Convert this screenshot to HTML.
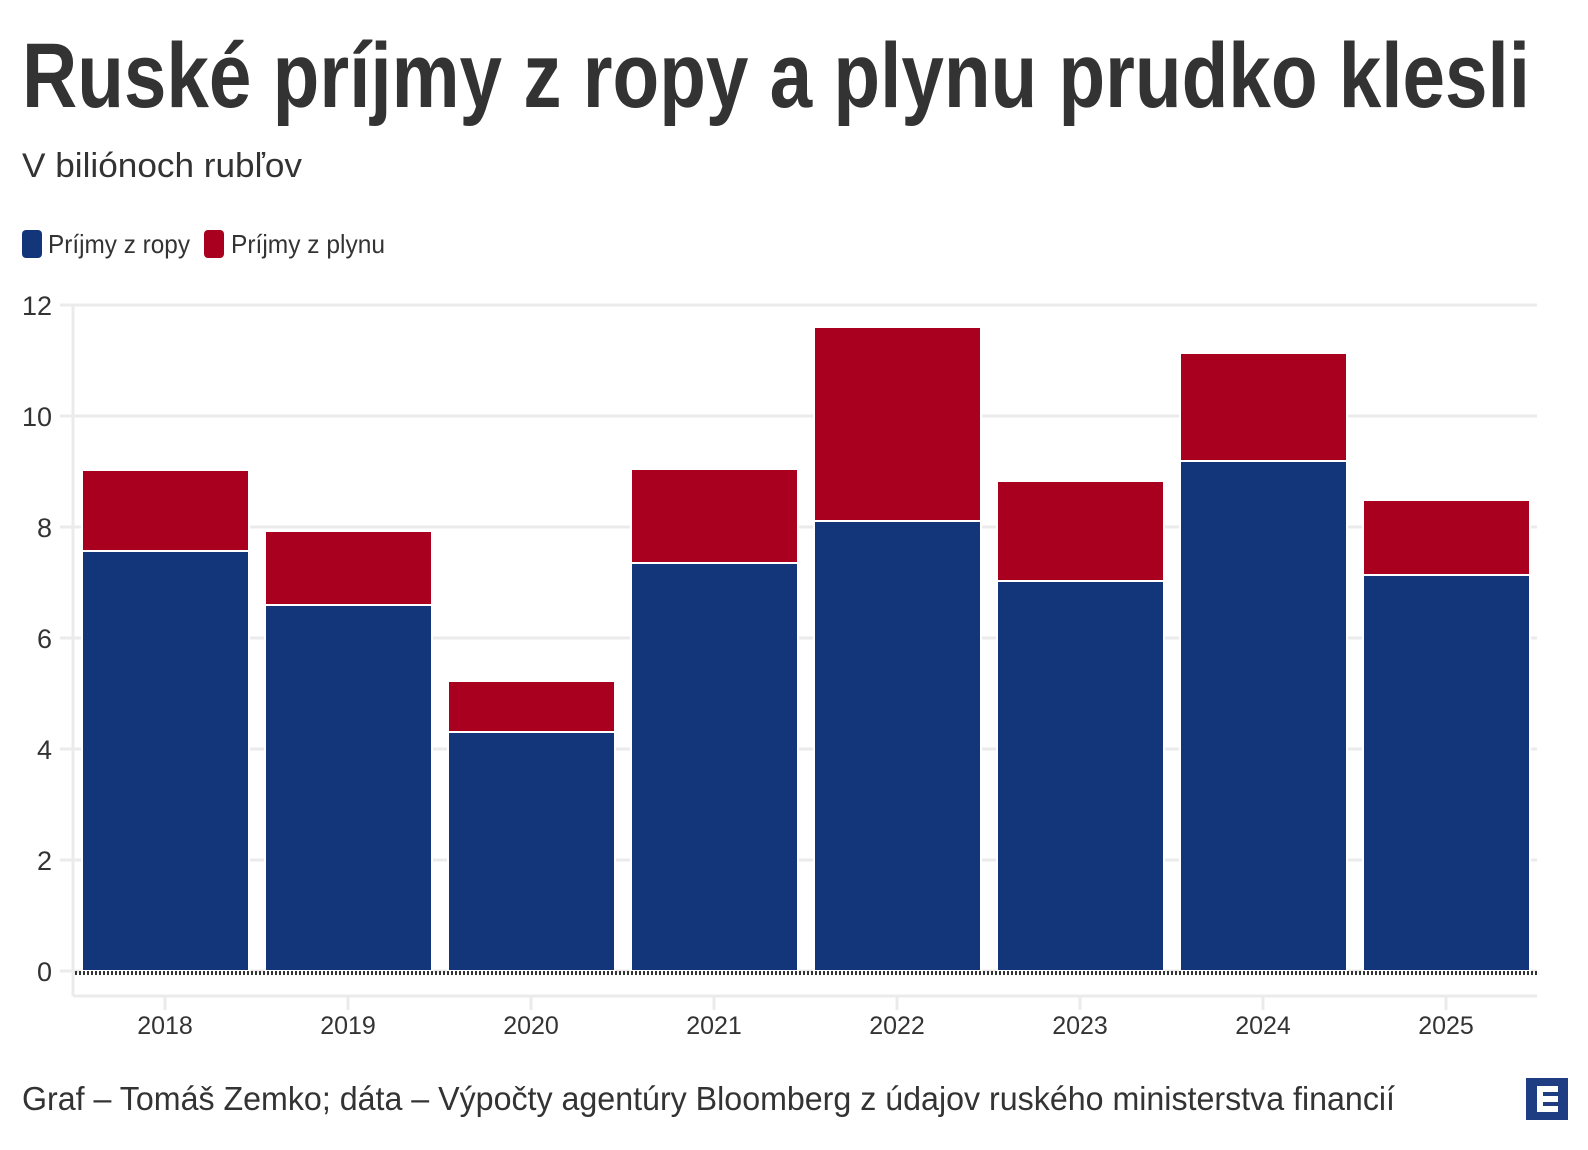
<!DOCTYPE html>
<html><head><meta charset="utf-8"><style>
html,body{margin:0;padding:0;background:#fff}
svg{display:block}
text{font-family:"Liberation Sans",sans-serif;fill:#333}
</style></head><body>
<svg width="1588" height="1150" viewBox="0 0 1588 1150" xmlns="http://www.w3.org/2000/svg">
<text x="22" y="107" font-size="92" font-weight="bold" textLength="1508" lengthAdjust="spacingAndGlyphs">Ruské príjmy z ropy a plynu prudko klesli</text>
<text x="22" y="177" font-size="34" textLength="280" lengthAdjust="spacingAndGlyphs">V biliónoch rubľov</text>
<rect x="22" y="230" width="20" height="28" rx="4" fill="#13357a"/>
<text x="48" y="253" font-size="26" textLength="142" lengthAdjust="spacingAndGlyphs">Príjmy z ropy</text>
<rect x="204" y="230" width="20" height="28" rx="4" fill="#aa001f"/>
<text x="231" y="253" font-size="26" textLength="154" lengthAdjust="spacingAndGlyphs">Príjmy z plynu</text>
<g stroke="#ebebeb" stroke-width="3">
<line x1="60" y1="305" x2="1537" y2="305"/>
<line x1="60" y1="416" x2="1537" y2="416"/>
<line x1="60" y1="527" x2="1537" y2="527"/>
<line x1="60" y1="638" x2="1537" y2="638"/>
<line x1="60" y1="749" x2="1537" y2="749"/>
<line x1="60" y1="860" x2="1537" y2="860"/>
<line x1="60" y1="971" x2="1537" y2="971"/>
<line x1="73" y1="305" x2="73" y2="996"/>
<line x1="73" y1="996" x2="1537" y2="996"/>
</g>
<g font-size="27" text-anchor="end">
<text x="52" y="315">12</text><text x="52" y="426">10</text><text x="52" y="537">8</text>
<text x="52" y="648">6</text><text x="52" y="759">4</text><text x="52" y="870">2</text><text x="52" y="981">0</text>
</g>
<g stroke="#fff" stroke-width="2">
<rect x="82" y="551" width="167" height="420" fill="#13357a"/>
<rect x="82" y="470" width="167" height="81" fill="#aa001f"/>
<rect x="265" y="605" width="167" height="366" fill="#13357a"/>
<rect x="265" y="531" width="167" height="74" fill="#aa001f"/>
<rect x="448" y="732" width="167" height="239" fill="#13357a"/>
<rect x="448" y="681" width="167" height="51" fill="#aa001f"/>
<rect x="631" y="563" width="167" height="408" fill="#13357a"/>
<rect x="631" y="469" width="167" height="94" fill="#aa001f"/>
<rect x="814" y="521" width="167" height="450" fill="#13357a"/>
<rect x="814" y="327" width="167" height="194" fill="#aa001f"/>
<rect x="997" y="581" width="167" height="390" fill="#13357a"/>
<rect x="997" y="481" width="167" height="100" fill="#aa001f"/>
<rect x="1180" y="461" width="167" height="510" fill="#13357a"/>
<rect x="1180" y="353" width="167" height="108" fill="#aa001f"/>
<rect x="1363" y="575" width="167" height="396" fill="#13357a"/>
<rect x="1363" y="500" width="167" height="75" fill="#aa001f"/>
</g>
<line x1="75" y1="973" x2="1537" y2="973" stroke="#333" stroke-width="4" stroke-dasharray="2,2"/>
<g stroke="#ebebeb" stroke-width="3">
<line x1="165" y1="996" x2="165" y2="1010"/><line x1="348" y1="996" x2="348" y2="1010"/>
<line x1="531" y1="996" x2="531" y2="1010"/><line x1="714" y1="996" x2="714" y2="1010"/>
<line x1="897" y1="996" x2="897" y2="1010"/><line x1="1080" y1="996" x2="1080" y2="1010"/>
<line x1="1263" y1="996" x2="1263" y2="1010"/><line x1="1446" y1="996" x2="1446" y2="1010"/>
</g>
<g font-size="25" text-anchor="middle">
<text x="165" y="1034">2018</text><text x="348" y="1034">2019</text><text x="531" y="1034">2020</text>
<text x="714" y="1034">2021</text><text x="897" y="1034">2022</text><text x="1080" y="1034">2023</text>
<text x="1263" y="1034">2024</text><text x="1446" y="1034">2025</text>
</g>
<text x="22" y="1110" font-size="33" textLength="1373" lengthAdjust="spacingAndGlyphs">Graf – Tomáš Zemko; dáta – Výpočty agentúry Bloomberg z údajov ruského ministerstva financií</text>
<rect x="1526" y="1078" width="42" height="42" fill="#1f3d82"/>
<path d="M1537 1086 H1558 V1092 H1543 V1096 H1558 V1102 H1543 V1106 H1558 V1112 H1537 Z" fill="#fff"/>
</svg>
</body></html>
